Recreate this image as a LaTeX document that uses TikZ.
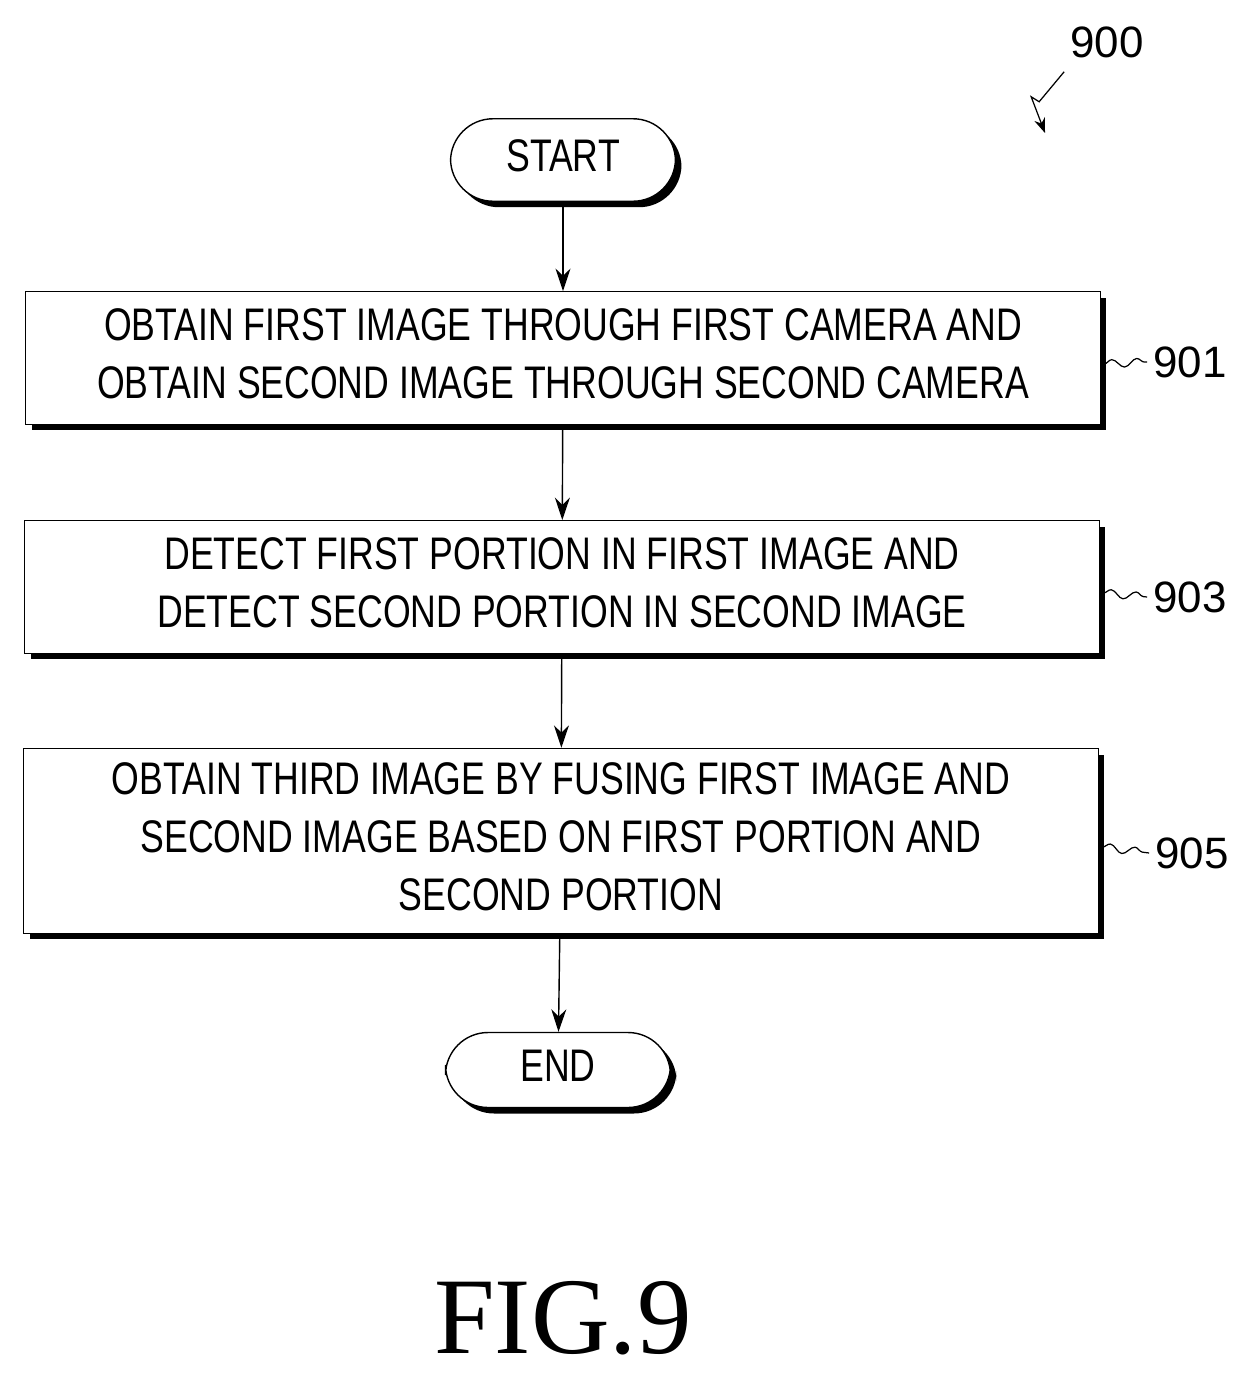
\documentclass[tikz,border=0pt]{standalone}
\usepackage{fontspec}
\setmainfont{Liberation Sans}
\newfontfamily\figfont{Liberation Serif}
\usetikzlibrary{arrows.meta,shadows,decorations.pathmorphing}
\newcommand{\cond}[1]{\scalebox{0.78}[1]{\begin{tabular}{@{}c@{}}#1\end{tabular}}}
\tikzset{
  stepbox/.style={draw, line width=0.8pt, fill=white, inner sep=0pt,
    drop shadow={opacity=1, fill=black, shadow xshift=0.12cm, shadow yshift=-0.12cm},
    font=\fontsize{26}{33}\selectfont},
  term/.style={stepbox, rounded corners=0.85cm},
  ref/.style={font=\fontsize{25}{30}\selectfont},
  arr/.style={-{Stealth[length=0.45cm,width=0.3cm]}, line width=0.8pt},
  squig/.style={line width=0.7pt, decorate, decoration={snake, amplitude=0.08cm, segment length=0.5cm}}
}
\begin{document}
\begin{tikzpicture}[x=0.02cm,y=-0.02cm]
      \useasboundingbox (0,0) rectangle (1245,1379);
      % TERMINALS
      \node[term, minimum width=4.5cm, minimum height=1.65cm] (start) at (563,160) {\cond{START}};
      \node[term, minimum width=4.5cm, minimum height=1.5cm] (end) at (558,1070) {\cond{END}};

      % STEPS
      \node[stepbox, minimum width=21.5cm, minimum height=2.65cm] (s901) at (563,358)
        {\cond{OBTAIN FIRST IMAGE THROUGH FIRST CAMERA AND\\OBTAIN SECOND IMAGE THROUGH SECOND CAMERA}};
      \node[stepbox, minimum width=21.5cm, minimum height=2.65cm] (s903) at (562,587)
        {\cond{DETECT FIRST PORTION IN FIRST IMAGE AND\\DETECT SECOND PORTION IN SECOND IMAGE}};
      \node[stepbox, minimum width=21.5cm, minimum height=3.7cm] (s905) at (561,841)
        {\cond{OBTAIN THIRD IMAGE BY FUSING FIRST IMAGE AND\\SECOND IMAGE BASED ON FIRST PORTION AND\\SECOND PORTION}};

      % REFERENCE LABELS
      \node[ref] (l901) at (1190,362) {901};
      \node[ref] (l903) at (1190,597) {903};
      \node[ref] (l905) at (1192,853) {905};
      \node[ref] (l900) at (1107,42) {900};
      \coordinate (c900) at (1045,133);
      \draw[squig] (s901.east) ++(3,6) -- (l901.west);
      \draw[squig] (s903.east) ++(3,6) -- (l903.west);
      \draw[squig] (s905.east) ++(3,6) -- (l905.west);
      \draw[line width=0.7pt, -{Stealth[length=0.3cm]}] (l900.south west) ++(0,8)
        -- ++(-25,30) -- ++(-8,-5) -- (c900);

      % ARROWS
      \draw[arr] (start) -- (s901);
      \draw[arr] (s901) -- (s903);
      \draw[arr] (s903) -- (s905);
      \draw[arr] (s905) -- (end);

      % CAPTION
      \node[font=\figfont\fontsize{62}{62}\selectfont] (fig) at (563,1318) {FIG.9};
\end{tikzpicture}
\end{document}
